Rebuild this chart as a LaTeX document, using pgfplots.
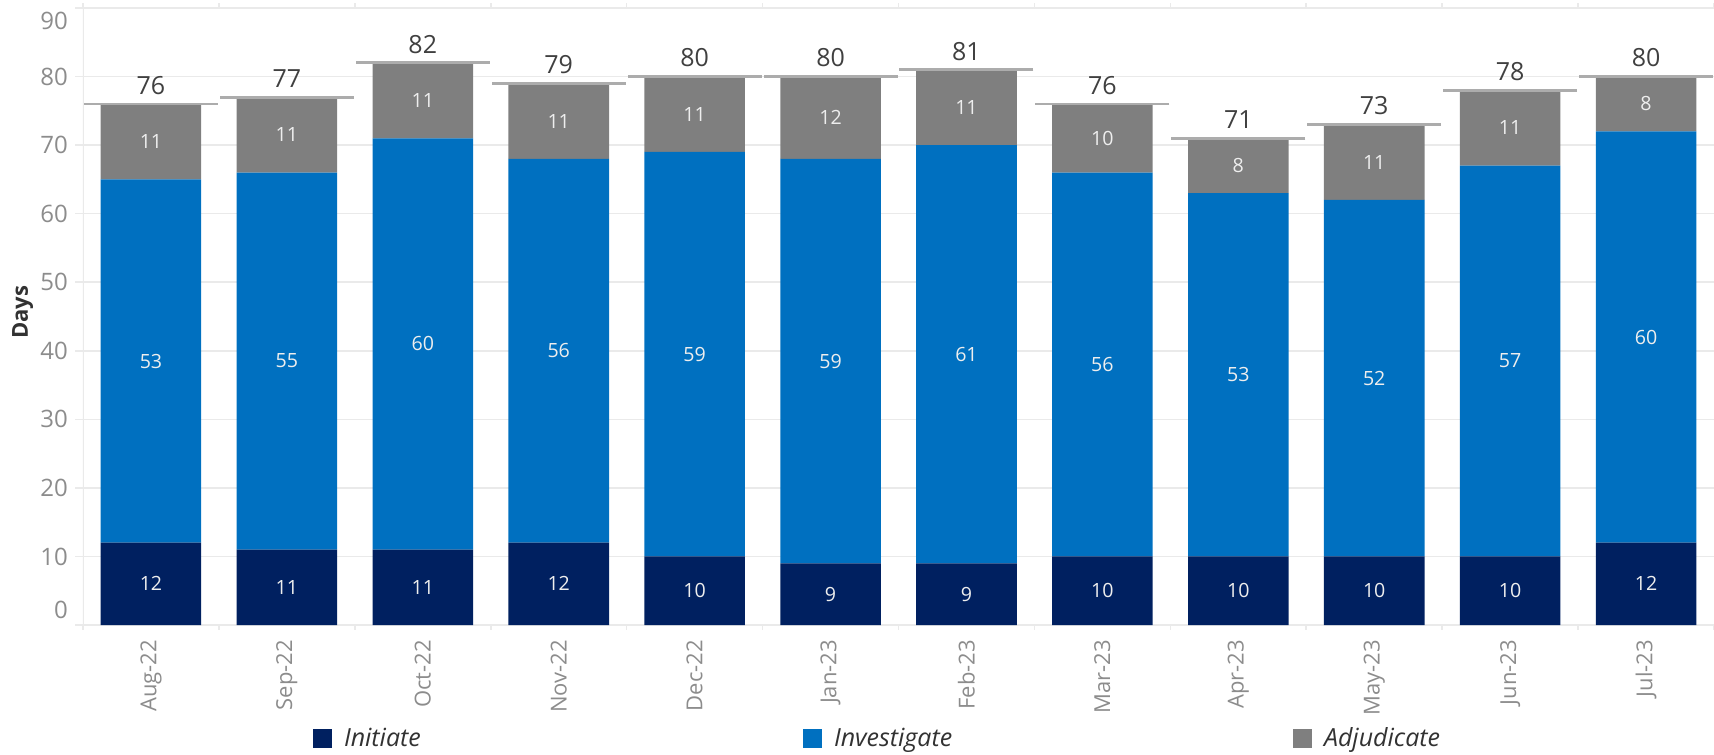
\documentclass[border=0pt]{standalone}
\usepackage{pgfplots}
\pgfplotsset{compat=1.18}
\usepackage{pgfplotstable}
\usepackage{fontspec}
\setmainfont{Open Sans}
\definecolor{ini}{RGB}{0,32,96}
\definecolor{inv}{RGB}{0,112,192}
\definecolor{adj}{RGB}{127,127,127}
\definecolor{gridc}{RGB}{234,234,234}
\definecolor{tickc}{RGB}{140,140,140}
\definecolor{totc}{RGB}{64,64,64}
\definecolor{linec}{RGB}{172,172,172}
\definecolor{labc}{RGB}{238,238,238}
\definecolor{titc}{RGB}{50,50,50}

\pgfplotstableread{
x ini inv adj
0 12 53 11
1 11 55 11
2 11 60 11
3 12 56 11
4 10 59 11
5 9 59 12
6 9 61 11
7 10 56 10
8 10 53 8
9 10 52 11
10 10 57 11
11 12 60 8
}\data

\pgfplotsset{
  common/.style={scale only axis, width=815.5pt, height=308.5pt,
    at={(41.5pt,-312.5pt)}, anchor=south west,
    xmin=-0.5, xmax=11.5, ymin=0, ymax=90},
  sq legend/.style={legend image code/.code={\fill[##1] (0pt,-4.75pt) rectangle (9.5pt,4.75pt); \path (15.5pt,0pt);}},
  /pgf/number format/assume math mode=true,
}

\begin{document}
\begin{tikzpicture}
\useasboundingbox (0,0) rectangle (857pt,-377.5pt);
\begin{axis}[common, ybar stacked, bar width=0.74,
  axis line style={draw=none},
  ytick={10,20,...,80}, extra y ticks={0},
  extra y tick style={grid=major, yticklabel style={yshift=7.5pt}},
  ymajorgrids, major grid style={gridc, line width=0.8pt},
  tick align=outside, major tick length=4pt, minor tick length=2.5pt,
  major y tick style={gridc, line width=0.8pt},
  xtick={0,...,11},
  xticklabels={Aug-22,Sep-22,Oct-22,Nov-22,Dec-22,Jan-23,Feb-23,Mar-23,Apr-23,May-23,Jun-23,Jul-23},
  major x tick style={draw=none},
  minor xtick={-0.5,0.5,...,11.5},
  minor x tick style={draw=gridc, line width=0.8pt},
  xticklabel style={rotate=90, anchor=east, font=\fontsize{11}{13}\selectfont, text=tickc},
  yticklabel style={font=\fontsize{12}{14}\selectfont, text=tickc},
  ylabel={Days},
  ylabel style={at={(axis description cs:-0.037,0.507)}, anchor=center, font=\bfseries\fontsize{11}{13}\selectfont, text=titc},
  legend columns=3,
  legend cell align=left,
  legend style={at={(0.14102,-0.18476)}, anchor=west, draw=none, fill=none,
    inner sep=0pt, outer sep=0pt, column sep=0pt,
    nodes={inner sep=0pt, outer sep=0pt, font=\itshape\fontsize{12.5}{14}\selectfont, text=titc}},
]
\addplot[fill=ini, draw=none, sq legend] table[x=x, y=ini] {\data};
\addlegendentry{\makebox[229.5pt][l]{Initiate}}
\addplot[fill=inv, draw=none, sq legend] table[x=x, y=inv] {\data};
\addlegendentry{\makebox[229.5pt][l]{Investigate}}
\addplot[fill=adj, draw=none, sq legend] table[x=x, y=adj] {\data};
\addlegendentry{Adjudicate}
\draw[gridc, line width=0.8pt] (rel axis cs:0,0) -- (rel axis cs:0,1);
\end{axis}
\begin{axis}[common, axis line style={draw=none}, xtick=\empty,
  ytick={90}, ymajorgrids, major grid style={gridc, line width=0.8pt},
  tick align=outside, major tick length=4pt,
  major y tick style={gridc, line width=0.8pt},
  yticklabel style={font=\fontsize{12}{14}\selectfont, text=tickc, yshift=-6.5pt}]
\addplot[draw=none, mark=none, nodes near coords, point meta=explicit,
  nodes near coords style={anchor=center, font=\fontsize{9.8}{11}\selectfont, text=labc}]
  table[x=x, y expr=\thisrow{ini}/2, meta=ini] {\data};
\addplot[draw=none, mark=none, nodes near coords, point meta=explicit,
  nodes near coords style={anchor=center, font=\fontsize{9.8}{11}\selectfont, text=labc}]
  table[x=x, y expr=\thisrow{ini}+\thisrow{inv}/2, meta=inv] {\data};
\addplot[draw=none, mark=none, nodes near coords, point meta=explicit,
  nodes near coords style={anchor=center, font=\fontsize{9.8}{11}\selectfont, text=labc}]
  table[x=x, y expr=\thisrow{ini}+\thisrow{inv}+\thisrow{adj}/2, meta=adj] {\data};
\addplot[only marks, mark=-, mark size=33.5pt, mark options={line width=1.4pt, draw=linec},
  nodes near coords, point meta=explicit,
  nodes near coords style={anchor=south, inner sep=4pt, font=\fontsize{12.5}{14}\selectfont, text=totc}]
  table[x=x, y expr=\thisrow{ini}+\thisrow{inv}+\thisrow{adj}, meta expr=\thisrow{ini}+\thisrow{inv}+\thisrow{adj}] {\data};
\end{axis}
\end{tikzpicture}
\end{document}
